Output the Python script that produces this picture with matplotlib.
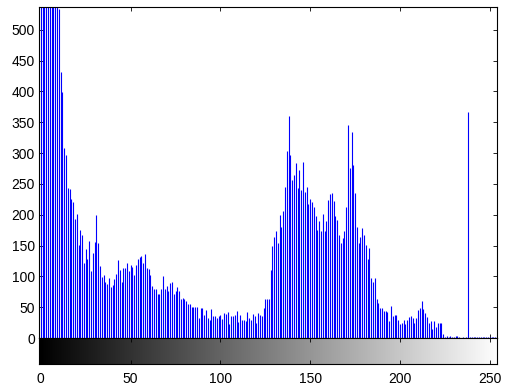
import numpy as np
import matplotlib
matplotlib.use('Agg')
import matplotlib.pyplot as plt

plt.rcParams['font.family'] = ['Liberation Sans', 'DejaVu Sans']

# gray level counts (bins 0-9 are clipped at the top)
counts_0_49 = [600, 720, 680, 800, 650, 900, 700, 620, 760, 580,
               533, 432, 399, 308, 297, 243, 241, 225, 221, 193,
               201, 151, 175, 167, 122, 145, 128, 157, 109, 138,
               156, 200, 154, 116, 99, 102, 91, 88, 97, 83,
               86, 95, 104, 126, 110, 91, 114, 114, 122, 109]
counts_50_99 = [118, 115, 102, 118, 128, 131, 133, 122, 136, 114,
                112, 102, 84, 80, 80, 71, 71, 79, 100, 79,
                84, 77, 90, 91, 71, 76, 83, 77, 63, 65,
                63, 60, 55, 55, 51, 50, 50, 51, 32, 49,
                49, 38, 45, 33, 29, 47, 36, 36, 32, 36]
counts_100_149 = [37, 31, 40, 39, 42, 23, 35, 35, 37, 44,
                  26, 37, 29, 29, 27, 42, 33, 30, 39, 35,
                  25, 40, 37, 35, 48, 64, 63, 64, 110, 149,
                  164, 174, 154, 200, 180, 206, 245, 304, 360, 297,
                  256, 265, 284, 244, 273, 240, 286, 237, 245, 217]
counts_150_199 = [225, 220, 213, 198, 175, 190, 174, 201, 174, 190,
                  224, 234, 235, 222, 198, 192, 167, 154, 162, 174,
                  213, 346, 276, 334, 281, 235, 180, 154, 164, 178,
                  167, 151, 128, 146, 97, 91, 97, 63, 57, 49,
                  49, 44, 44, 42, 28, 52, 36, 37, 37, 29]
counts_200_255 = [23, 25, 29, 23, 29, 34, 35, 33, 24, 33,
                  45, 48, 60, 47, 40, 34, 25, 27, 15, 28,
                  18, 24, 24, 24, 6, 2, 3, 1, 3, 2,
                  1, 3, 3, 1, 0, 1, 0, 1, 366, 1,
                  1, 2, 1, 1, 2, 1, 1, 1, 2, 1,
                  1, 1, 1, 2, 1, 1]

counts = counts_0_49 + counts_50_99 + counts_100_149 + counts_150_199 + counts_200_255
levels = np.arange(len(counts))

W, H = 507, 390
fig = plt.figure(figsize=(W / 100, H / 100), dpi=100)

# histogram axes
ax = fig.add_axes([39 / W, 1 - 338 / H, 458 / W, 331 / H])
ax.vlines(levels, 0, counts, colors='b', linewidth=0.8)
ax.set_xlim(-1, 254)
ax.set_ylim(0, 537)
ax.set_yticks(range(0, 501, 50))
ax.set_xticks(range(0, 251, 50))
ax.tick_params(direction='in', top=True, right=True, labelbottom=False,
               length=3, width=0.6, labelsize=10, pad=3)
for s in ax.spines.values():
    s.set_linewidth(0.8)

# gray ramp below
cax = fig.add_axes([39 / W, 1 - 364 / H, 458 / W, 26 / H])
ramp = np.linspace(0, 1, 256)[None, :]
cax.imshow(ramp, cmap='gray', aspect='auto', extent=(-0.5, 255.5, 0, 1))
cax.set_xlim(-1, 254)
cax.set_ylim(0, 1)
cax.set_yticks([])
cax.set_xticks(range(0, 251, 50))
cax.tick_params(direction='in', top=True, length=3, width=0.6,
                labelsize=10, pad=5.5)
for s in cax.spines.values():
    s.set_linewidth(0.8)

fig.savefig('out.png', dpi=100)
